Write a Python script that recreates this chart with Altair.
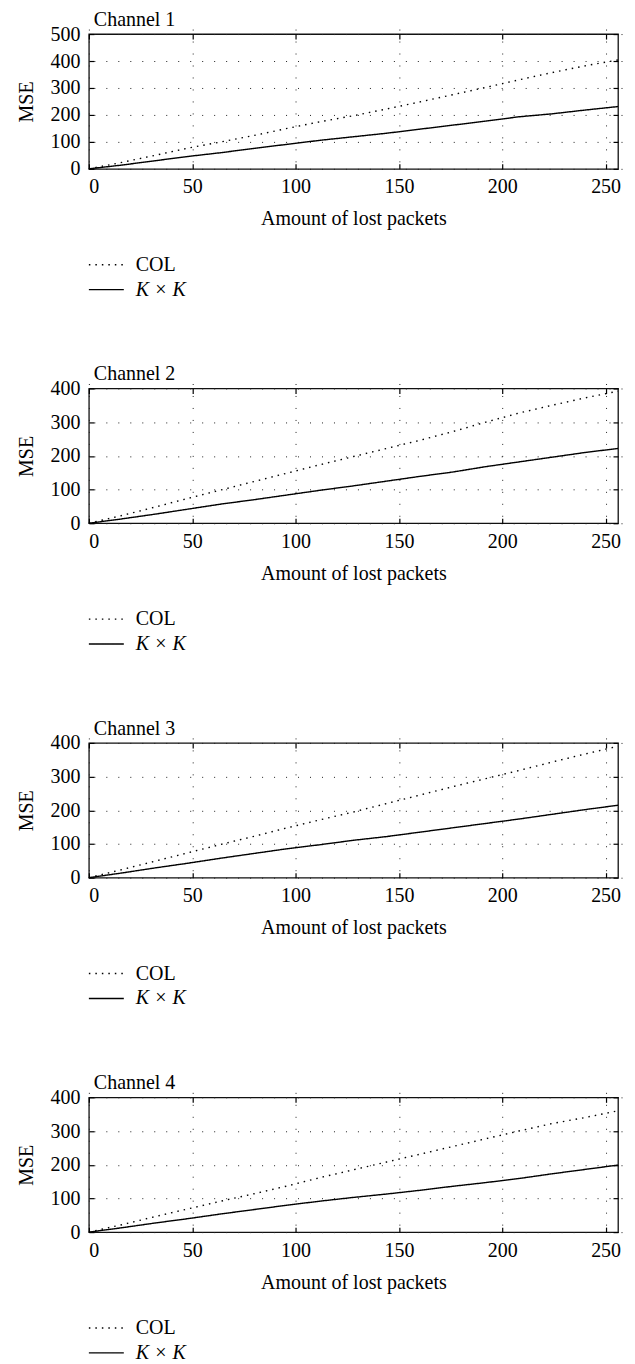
import altair as alt
import pandas as pd

FONT = "Liberation Serif"

packets = [0, 16, 32, 48, 64, 80, 96, 112, 128, 144, 160, 176, 192, 208, 224, 240, 256]

col_1 = [0, 24, 50, 77, 100, 124, 150, 175, 197, 222, 248, 275, 302, 330, 357, 382, 404]
kk_1 = [0, 14, 30, 46, 60, 76, 91, 106, 119, 132, 147, 162, 177, 193, 204, 218, 231]
col_2 = [0, 23, 48, 74, 99, 124, 149, 174, 198, 222, 246, 272, 300, 327, 350, 372, 392]
kk_2 = [0, 13, 27, 42, 57, 70, 84, 98, 111, 125, 139, 152, 168, 182, 196, 210, 222]
col_3 = [0, 24, 49, 74, 99, 123, 148, 172, 195, 220, 245, 270, 294, 318, 343, 367, 390]
kk_3 = [0, 14, 29, 43, 58, 72, 86, 98, 111, 122, 135, 148, 161, 174, 188, 202, 215]
col_4 = [0, 22, 46, 69, 92, 114, 137, 162, 185, 208, 231, 254, 277, 300, 322, 340, 360]
kk_4 = [0, 13, 27, 40, 54, 67, 80, 92, 103, 113, 124, 136, 147, 159, 173, 186, 199]

channels = ["Channel 1", "Channel 2", "Channel 3", "Channel 4"]
col_series = [col_1, col_2, col_3, col_4]
kk_series = [kk_1, kk_2, kk_3, kk_4]
y_max = [500, 400, 400, 400]
x_ticks = [0, 50, 100, 150, 200, 250]
series_names = ["COL", "K × K"]

W = 530
H = 135
FS = 20

dash_scale = alt.Scale(domain=series_names, range=[[1.5, 5], [1, 0]])


def panel(i):
    n = len(packets)
    df = pd.DataFrame({
        "packets": packets * 2,
        "mse": col_series[i] + kk_series[i],
        "series": [series_names[0]] * n + [series_names[1]] * n,
    })
    y_ticks = list(range(0, y_max[i] + 1, 100))
    xs = alt.Scale(domain=[0, 256], nice=False, zero=False)
    ys = alt.Scale(domain=[0, y_max[i]], nice=False)
    base = alt.Chart(df)
    lines = base.mark_line(color="black", strokeWidth=1.4).encode(
        x=alt.X("packets:Q", scale=xs,
                axis=alt.Axis(orient="bottom", values=x_ticks, title="Amount of lost packets",
                              grid=True, labelPadding=8, titlePadding=12)),
        y=alt.Y("mse:Q", scale=ys,
                axis=alt.Axis(orient="left", values=y_ticks, title="MSE",
                              grid=True, labelPadding=9, titlePadding=13)),
        strokeDash=alt.StrokeDash("series:N", scale=dash_scale, legend=None),
    )
    frame_axes = base.mark_point(opacity=0).encode(
        x=alt.X("packets:Q", scale=xs,
                axis=alt.Axis(orient="top", values=x_ticks, labels=False, title=None, grid=False)),
        y=alt.Y("mse:Q", scale=ys,
                axis=alt.Axis(orient="right", values=y_ticks, labels=False, title=None, grid=False)),
    )
    main = alt.layer(lines, frame_axes).resolve_axis(x="independent", y="independent")

    leg_df = pd.DataFrame({"series": series_names, "label": series_names})
    leg_y = alt.Y("series:N", axis=None,
                  scale=alt.Scale(type="point", domain=series_names, range=[H + 96, H + 121], padding=0))
    leg_base = alt.Chart(leg_df)
    leg_rule = leg_base.mark_rule(color="black", strokeWidth=1.4).encode(
        x=alt.value(0), x2=alt.value(35), y=leg_y,
        strokeDash=alt.StrokeDash("series:N", scale=dash_scale, legend=None),
    )
    leg_col = leg_base.transform_filter(alt.datum.series == series_names[0]).mark_text(
        align="left", baseline="middle", font=FONT, fontSize=FS, color="black"
    ).encode(x=alt.value(47), y=leg_y, text="label:N")
    leg_kk = leg_base.transform_filter(alt.datum.series == series_names[1]).mark_text(
        align="left", baseline="middle", font=FONT, fontSize=FS, fontStyle="italic", color="black"
    ).encode(x=alt.value(47), y=leg_y, text="label:N")
    legend = alt.layer(leg_rule, leg_col, leg_kk)

    return alt.layer(main, legend).resolve_scale(y="independent").properties(
        width=W, height=H,
        title=alt.TitleParams(channels[i], anchor="start", frame="group", font=FONT, fontSize=FS,
                              fontWeight="normal", color="black", offset=-6, dx=5),
    )


chart = alt.vconcat(*[panel(i) for i in range(4)], spacing=63).properties(
    padding={"left": 8, "top": 0, "right": 5, "bottom": 0}
).configure(font=FONT).configure_view(
    stroke="#111", strokeWidth=1.3
).configure_axis(
    labelFont=FONT, titleFont=FONT, labelFontSize=FS, titleFontSize=FS,
    titleFontWeight="normal", labelColor="black", titleColor="black",
    tickColor="black", tickSize=5, tickWidth=1.2, domain=False, offset=-5,
    gridColor="#222", gridDash=[1, 11], gridWidth=1, gridOpacity=1,
)

chart.save("out.html", embed_options={"renderer": "svg", "actions": False})
